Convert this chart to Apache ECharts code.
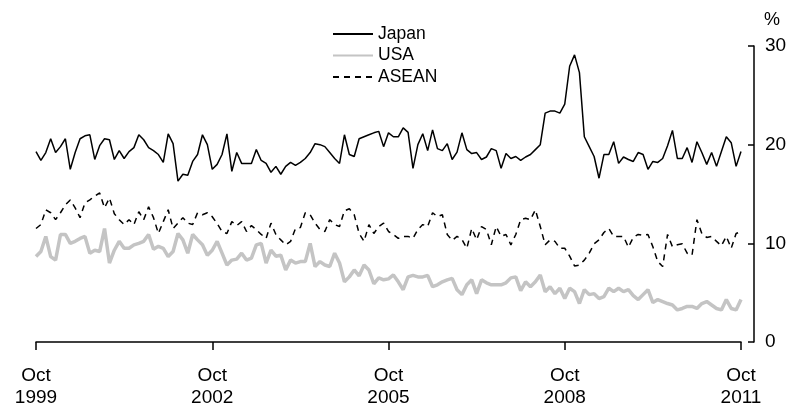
<!DOCTYPE html>
<html>
<head>
<meta charset="utf-8">
<script src="https://cdn.jsdelivr.net/npm/echarts@6/dist/echarts.min.js"></script>
<style>
  html, body { margin: 0; padding: 0; background: #fff; }
  #chart { width: 796px; height: 409px; }
</style>
</head>
<body>
<div id="chart"></div>
<script>
// monthly, Oct 1999 .. Oct 2011 (145 months)
const monthNames = ['Jan', 'Feb', 'Mar', 'Apr', 'May', 'Jun', 'Jul', 'Aug', 'Sep', 'Oct', 'Nov', 'Dec']
const tickYears = ['1999', '2002', '2005', '2008', '2011']

const japan = [
    19.3, 18.4, 19.2, 20.6, 19.2, 19.8, 20.6, 17.5, 19.2, 20.6, 20.9, 21.0, 18.5, 19.9, 20.6, 20.5, 18.5, 19.4, 18.6, 19.3, 19.7, 21.0, 20.5, 19.7, 19.4,
    19.0, 18.2, 21.1, 20.1, 16.3, 17.0, 16.9, 18.3, 19.0, 21.0, 20.0, 17.5, 18.0, 19.0, 21.1, 17.3, 19.2, 18.1, 18.1, 18.1, 19.5, 18.4, 18.1, 17.2,
    17.8, 17.0, 17.8, 18.2, 17.9, 18.2, 18.6, 19.2, 20.1, 20.0, 19.8, 19.2, 18.6, 18.1, 21.0, 19.0, 18.8, 20.6, 20.8, 21.0, 21.2, 21.35, 19.8, 21.2, 20.8,
    20.8, 21.7, 21.25, 17.6, 20.0, 21.1, 19.4, 21.5, 19.6, 19.4, 20.1, 18.5, 19.25, 21.2, 19.5, 19.1, 19.2, 18.5, 18.75, 19.6, 19.4, 17.6, 19.1, 18.6, 18.8,
    18.4, 18.75, 19.0, 19.5, 20.0, 23.2, 23.4, 23.4, 23.2, 24.1, 27.95, 29.1, 27.3, 20.8, 19.8, 18.8, 16.6, 19.0, 19.0, 20.3, 18.1, 18.75, 18.5, 18.3,
    19.2, 19.0, 17.5, 18.3, 18.2, 18.6, 19.9, 21.45, 18.6, 18.6, 19.7, 18.2, 20.3, 19.2, 18.0, 19.2, 17.8, 19.3, 20.8, 20.2, 17.8, 19.3
]
const usa = [
    8.66, 9.17, 10.7, 8.66, 8.3, 10.9, 10.9, 10.0, 10.2, 10.5, 10.7, 9.0, 9.3, 9.17, 11.5, 8.0, 9.3, 10.2, 9.5, 9.5, 9.85, 10.0, 10.2, 10.9, 9.4,
    9.7, 9.5, 8.66, 9.17, 11.0, 10.35, 9.0, 10.9, 10.35, 9.85, 8.8, 9.3, 10.2, 9.0, 7.8, 8.3, 8.4, 9.0, 8.3, 8.5, 9.85, 10.0, 8.0, 9.3,
    8.7, 8.8, 7.3, 8.3, 8.0, 8.15, 8.15, 10.0, 7.65, 8.15, 7.8, 7.65, 9.0, 8.0, 6.1, 6.6, 7.3, 6.7, 7.8, 7.3, 5.9, 6.5, 6.3, 6.4, 6.8,
    6.1, 5.3, 6.6, 6.75, 6.6, 6.6, 6.75, 5.6, 5.8, 6.1, 6.3, 6.45, 5.3, 4.8, 5.8, 6.3, 4.9, 6.3, 6.0, 5.8, 5.8, 5.8, 6.0, 6.5, 6.6,
    5.2, 6.1, 5.6, 6.1, 6.8, 5.1, 5.6, 4.9, 5.45, 4.4, 5.45, 5.1, 3.9, 5.3, 4.8, 4.9, 4.4, 4.6, 5.45, 5.1, 5.45, 5.1, 5.3, 4.7,
    4.3, 4.8, 5.3, 4.0, 4.3, 4.1, 3.9, 3.75, 3.25, 3.4, 3.6, 3.6, 3.4, 3.9, 4.1, 3.75, 3.4, 3.25, 4.3, 3.4, 3.25, 4.3
]
const asean = [
    11.5, 11.9, 13.4, 13.1, 12.4, 13.1, 13.9, 14.4, 13.6, 12.6, 14.1, 14.4, 14.8, 15.1, 13.6, 14.6, 13.0, 12.4, 11.9, 12.4, 11.9, 13.2, 12.4, 13.7, 12.6,
    11.0, 12.2, 13.4, 11.5, 12.05, 12.6, 12.05, 11.9, 13.1, 12.9, 13.1, 12.7, 12.0, 11.2, 11.0, 12.2, 11.8, 12.2, 11.2, 11.8, 11.4, 10.9, 10.5, 12.05,
    10.9, 10.35, 9.85, 10.2, 11.5, 11.6, 13.1, 12.9, 12.05, 11.4, 11.2, 12.4, 11.9, 11.7, 13.3, 13.5, 12.9, 11.0, 10.2, 11.9, 11.0, 11.7, 12.05, 11.2, 10.9,
    10.5, 10.7, 10.7, 10.5, 11.4, 11.9, 11.7, 13.1, 12.7, 12.9, 10.9, 10.3, 10.7, 10.4, 9.5, 11.5, 10.35, 11.7, 11.4, 9.85, 11.7, 10.7, 10.9, 9.85, 10.9,
    12.4, 12.55, 12.4, 13.4, 11.7, 9.85, 10.35, 10.2, 9.5, 9.5, 8.7, 7.7, 7.8, 8.3, 9.0, 9.95, 10.35, 11.1, 11.5, 10.7, 10.7, 10.7, 9.6, 10.6,
    10.9, 10.8, 10.9, 9.65, 8.15, 7.65, 10.9, 9.65, 9.85, 9.95, 9.0, 8.8, 12.4, 11.0, 10.6, 10.7, 10.2, 9.75, 10.7, 9.5, 11.0, 11.2
]

// category labels: one per month starting Oct 1999
let months = []
for (let i = 0; i < japan.length; i++) {
    let m = (9 + i) % 12
    let y = 1999 + Math.floor((9 + i) / 12)
    months.push(monthNames[m] + ' ' + y)
}

const fontFamily = 'Liberation Sans, Arial, sans-serif'

let chart = echarts.init(document.getElementById('chart'))

let option = {
    animation: false,
    textStyle: { fontFamily: fontFamily },
    legend: {
        orient: 'vertical',
        left: 327,
        top: 20,
        itemWidth: 40,
        itemHeight: 14,
        itemGap: 3.5,
        itemStyle: { opacity: 0 },
        textStyle: { fontSize: 17.5, color: '#000', fontFamily: fontFamily },
        data: ['Japan', 'USA', 'ASEAN']
    },
    grid: {
        left: 36,
        right: 55,
        top: 46,
        bottom: 67
    },
    xAxis: {
        type: 'category',
        data: months,
        boundaryGap: false,
        offset: 12,
        axisLine: { lineStyle: { color: '#000', width: 1.5 } },
        axisTick: {
            interval: function (index) { return index % 36 === 0 },
            length: 8,
            lineStyle: { color: '#000', width: 1.5 }
        },
        axisLabel: {
            interval: function (index) { return index % 36 === 0 },
            formatter: function (value, index) {
                return 'Oct\n' + tickYears[index / 36]
            },
            color: '#000',
            fontSize: 19,
            lineHeight: 22,
            margin: 11
        },
        splitLine: { show: false }
    },
    yAxis: {
        type: 'value',
        position: 'right',
        offset: 13,
        min: 0,
        max: 30,
        interval: 10,
        name: '%',
        nameLocation: 'end',
        nameGap: 17,
        nameTextStyle: { color: '#000', fontSize: 18, align: 'left', padding: [0, 0, 0, 10] },
        axisLine: { show: true, lineStyle: { color: '#000', width: 1.5 } },
        axisTick: { show: true, inside: true, length: 6, lineStyle: { color: '#000', width: 1.5 } },
        axisLabel: { color: '#000', fontSize: 19, margin: 11 },
        splitLine: { show: false }
    },
    series: [
        {
            name: 'Japan',
            type: 'line',
            data: japan,
            symbol: 'none',
            lineStyle: { color: '#000', width: 1.5 },
            itemStyle: { color: '#000' },
            z: 3
        },
        {
            name: 'USA',
            type: 'line',
            data: usa,
            symbol: 'none',
            lineStyle: { color: '#c4c4c4', width: 3.5 },
            itemStyle: { color: '#c4c4c4' },
            z: 1
        },
        {
            name: 'ASEAN',
            type: 'line',
            data: asean,
            symbol: 'none',
            lineStyle: { color: '#000', width: 1.5, type: [6, 5] },
            itemStyle: { color: '#000' },
            z: 2
        }
    ]
}

chart.setOption(option)
</script>
</body>
</html>
